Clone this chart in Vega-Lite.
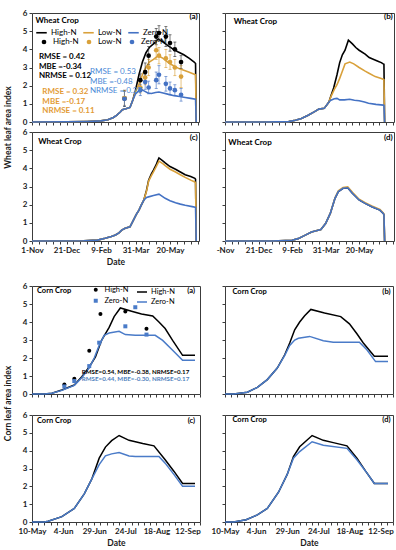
{
"$schema": "https://vega.github.io/schema/vega-lite/v6.json",
"background": "white",
"padding": {"left": 2, "top": 8, "right": 2, "bottom": 2},
"config": {
 "font": "Lato",
 "view": {"stroke": "#3c3c3c", "strokeWidth": 1},
 "axis": {"grid": false, "domain": false, "ticks": true, "tickSize": 3, "tickColor": "#3c3c3c", "tickWidth": 1, "labelOverlap": false, "labelFont": "Lato", "labelFontSize": 8, "labelFontWeight": "bold", "labelColor": "#1a1a1a", "labelPadding": 2, "titleFont": "Lato", "titleFontSize": 8.5, "titleFontWeight": "bold", "titleColor": "#1a1a1a", "titlePadding": 3},
 "legend": {"labelFont": "Lato", "labelFontSize": 8, "labelColor": "#000", "padding": 0, "rowPadding": 1}
},
"datasets": {
 "wheat": [
  {"panel":"a","series":"High-N","date":"2016-11-01","lai":0},
  {"panel":"a","series":"High-N","date":"2016-12-21","lai":0.01},
  {"panel":"a","series":"High-N","date":"2017-01-20","lai":0.03},
  {"panel":"a","series":"High-N","date":"2017-02-09","lai":0.06},
  {"panel":"a","series":"High-N","date":"2017-02-19","lai":0.12},
  {"panel":"a","series":"High-N","date":"2017-02-27","lai":0.25},
  {"panel":"a","series":"High-N","date":"2017-03-04","lai":0.38},
  {"panel":"a","series":"High-N","date":"2017-03-09","lai":0.55},
  {"panel":"a","series":"High-N","date":"2017-03-12","lai":0.68},
  {"panel":"a","series":"High-N","date":"2017-03-17","lai":0.73},
  {"panel":"a","series":"High-N","date":"2017-03-23","lai":0.8},
  {"panel":"a","series":"High-N","date":"2017-03-27","lai":1.2},
  {"panel":"a","series":"High-N","date":"2017-03-31","lai":1.75},
  {"panel":"a","series":"High-N","date":"2017-04-05","lai":2.6},
  {"panel":"a","series":"High-N","date":"2017-04-10","lai":3.3},
  {"panel":"a","series":"High-N","date":"2017-04-15","lai":3.8},
  {"panel":"a","series":"High-N","date":"2017-04-20","lai":4.1},
  {"panel":"a","series":"High-N","date":"2017-04-26","lai":4.3},
  {"panel":"a","series":"High-N","date":"2017-05-03","lai":4.57},
  {"panel":"a","series":"High-N","date":"2017-05-10","lai":4.4},
  {"panel":"a","series":"High-N","date":"2017-05-17","lai":4.2},
  {"panel":"a","series":"High-N","date":"2017-05-25","lai":4.0},
  {"panel":"a","series":"High-N","date":"2017-06-01","lai":3.85},
  {"panel":"a","series":"High-N","date":"2017-06-09","lai":3.7},
  {"panel":"a","series":"High-N","date":"2017-06-17","lai":3.5},
  {"panel":"a","series":"High-N","date":"2017-06-24","lai":3.3},
  {"panel":"a","series":"High-N","date":"2017-06-26","lai":3.22},
  {"panel":"a","series":"High-N","date":"2017-06-27","lai":0},
  {"panel":"a","series":"Low-N","date":"2016-11-01","lai":0},
  {"panel":"a","series":"Low-N","date":"2016-12-21","lai":0.01},
  {"panel":"a","series":"Low-N","date":"2017-01-20","lai":0.03},
  {"panel":"a","series":"Low-N","date":"2017-02-09","lai":0.06},
  {"panel":"a","series":"Low-N","date":"2017-02-19","lai":0.12},
  {"panel":"a","series":"Low-N","date":"2017-02-27","lai":0.25},
  {"panel":"a","series":"Low-N","date":"2017-03-04","lai":0.38},
  {"panel":"a","series":"Low-N","date":"2017-03-09","lai":0.55},
  {"panel":"a","series":"Low-N","date":"2017-03-12","lai":0.68},
  {"panel":"a","series":"Low-N","date":"2017-03-17","lai":0.73},
  {"panel":"a","series":"Low-N","date":"2017-03-23","lai":0.8},
  {"panel":"a","series":"Low-N","date":"2017-03-27","lai":1.2},
  {"panel":"a","series":"Low-N","date":"2017-03-31","lai":1.65},
  {"panel":"a","series":"Low-N","date":"2017-04-05","lai":2.1},
  {"panel":"a","series":"Low-N","date":"2017-04-10","lai":2.6},
  {"panel":"a","series":"Low-N","date":"2017-04-15","lai":3.0},
  {"panel":"a","series":"Low-N","date":"2017-04-20","lai":3.3},
  {"panel":"a","series":"Low-N","date":"2017-04-26","lai":3.45},
  {"panel":"a","series":"Low-N","date":"2017-05-03","lai":3.65},
  {"panel":"a","series":"Low-N","date":"2017-05-10","lai":3.5},
  {"panel":"a","series":"Low-N","date":"2017-05-18","lai":3.25},
  {"panel":"a","series":"Low-N","date":"2017-05-25","lai":3.1},
  {"panel":"a","series":"Low-N","date":"2017-06-02","lai":2.94},
  {"panel":"a","series":"Low-N","date":"2017-06-09","lai":2.85},
  {"panel":"a","series":"Low-N","date":"2017-06-16","lai":2.75},
  {"panel":"a","series":"Low-N","date":"2017-06-25","lai":2.62},
  {"panel":"a","series":"Low-N","date":"2017-06-26","lai":2.6},
  {"panel":"a","series":"Low-N","date":"2017-06-27","lai":0},
  {"panel":"a","series":"Zero-N","date":"2016-11-01","lai":0},
  {"panel":"a","series":"Zero-N","date":"2016-12-21","lai":0.01},
  {"panel":"a","series":"Zero-N","date":"2017-01-20","lai":0.03},
  {"panel":"a","series":"Zero-N","date":"2017-02-09","lai":0.06},
  {"panel":"a","series":"Zero-N","date":"2017-02-19","lai":0.12},
  {"panel":"a","series":"Zero-N","date":"2017-02-27","lai":0.25},
  {"panel":"a","series":"Zero-N","date":"2017-03-04","lai":0.38},
  {"panel":"a","series":"Zero-N","date":"2017-03-09","lai":0.55},
  {"panel":"a","series":"Zero-N","date":"2017-03-12","lai":0.68},
  {"panel":"a","series":"Zero-N","date":"2017-03-17","lai":0.73},
  {"panel":"a","series":"Zero-N","date":"2017-03-23","lai":0.8},
  {"panel":"a","series":"Zero-N","date":"2017-03-27","lai":1.2},
  {"panel":"a","series":"Zero-N","date":"2017-03-31","lai":1.55},
  {"panel":"a","series":"Zero-N","date":"2017-04-05","lai":1.72},
  {"panel":"a","series":"Zero-N","date":"2017-04-09","lai":1.78},
  {"panel":"a","series":"Zero-N","date":"2017-04-13","lai":1.7},
  {"panel":"a","series":"Zero-N","date":"2017-04-18","lai":1.6},
  {"panel":"a","series":"Zero-N","date":"2017-04-23","lai":1.57},
  {"panel":"a","series":"Zero-N","date":"2017-04-29","lai":1.62},
  {"panel":"a","series":"Zero-N","date":"2017-05-04","lai":1.65},
  {"panel":"a","series":"Zero-N","date":"2017-05-10","lai":1.6},
  {"panel":"a","series":"Zero-N","date":"2017-05-18","lai":1.52},
  {"panel":"a","series":"Zero-N","date":"2017-05-26","lai":1.45},
  {"panel":"a","series":"Zero-N","date":"2017-06-03","lai":1.4},
  {"panel":"a","series":"Zero-N","date":"2017-06-11","lai":1.35},
  {"panel":"a","series":"Zero-N","date":"2017-06-19","lai":1.3},
  {"panel":"a","series":"Zero-N","date":"2017-06-26","lai":1.25},
  {"panel":"a","series":"Zero-N","date":"2017-06-27","lai":0},

  {"panel":"b","series":"High-N","date":"2016-11-01","lai":0},
  {"panel":"b","series":"High-N","date":"2016-12-31","lai":0},
  {"panel":"b","series":"High-N","date":"2017-02-04","lai":0.02},
  {"panel":"b","series":"High-N","date":"2017-02-14","lai":0.1},
  {"panel":"b","series":"High-N","date":"2017-02-23","lai":0.19},
  {"panel":"b","series":"High-N","date":"2017-03-05","lai":0.37},
  {"panel":"b","series":"High-N","date":"2017-03-14","lai":0.56},
  {"panel":"b","series":"High-N","date":"2017-03-21","lai":0.71},
  {"panel":"b","series":"High-N","date":"2017-03-29","lai":0.75},
  {"panel":"b","series":"High-N","date":"2017-04-05","lai":1.1},
  {"panel":"b","series":"High-N","date":"2017-04-08","lai":1.45},
  {"panel":"b","series":"High-N","date":"2017-04-12","lai":1.87},
  {"panel":"b","series":"High-N","date":"2017-04-17","lai":2.6},
  {"panel":"b","series":"High-N","date":"2017-04-21","lai":3.27},
  {"panel":"b","series":"High-N","date":"2017-04-25","lai":3.7},
  {"panel":"b","series":"High-N","date":"2017-04-29","lai":3.95},
  {"panel":"b","series":"High-N","date":"2017-05-04","lai":4.5},
  {"panel":"b","series":"High-N","date":"2017-05-10","lai":4.3},
  {"panel":"b","series":"High-N","date":"2017-05-15","lai":4.1},
  {"panel":"b","series":"High-N","date":"2017-05-20","lai":3.95},
  {"panel":"b","series":"High-N","date":"2017-05-29","lai":3.74},
  {"panel":"b","series":"High-N","date":"2017-06-04","lai":3.55},
  {"panel":"b","series":"High-N","date":"2017-06-10","lai":3.46},
  {"panel":"b","series":"High-N","date":"2017-06-17","lai":3.35},
  {"panel":"b","series":"High-N","date":"2017-06-22","lai":3.27},
  {"panel":"b","series":"High-N","date":"2017-06-25","lai":3.2},
  {"panel":"b","series":"High-N","date":"2017-06-26","lai":3.18},
  {"panel":"b","series":"High-N","date":"2017-06-27","lai":0},
  {"panel":"b","series":"Low-N","date":"2016-11-01","lai":0},
  {"panel":"b","series":"Low-N","date":"2016-12-31","lai":0},
  {"panel":"b","series":"Low-N","date":"2017-02-04","lai":0.02},
  {"panel":"b","series":"Low-N","date":"2017-02-14","lai":0.1},
  {"panel":"b","series":"Low-N","date":"2017-02-23","lai":0.19},
  {"panel":"b","series":"Low-N","date":"2017-03-05","lai":0.37},
  {"panel":"b","series":"Low-N","date":"2017-03-14","lai":0.56},
  {"panel":"b","series":"Low-N","date":"2017-03-21","lai":0.71},
  {"panel":"b","series":"Low-N","date":"2017-03-29","lai":0.75},
  {"panel":"b","series":"Low-N","date":"2017-04-05","lai":1.1},
  {"panel":"b","series":"Low-N","date":"2017-04-08","lai":1.4},
  {"panel":"b","series":"Low-N","date":"2017-04-13","lai":1.8},
  {"panel":"b","series":"Low-N","date":"2017-04-17","lai":2.05},
  {"panel":"b","series":"Low-N","date":"2017-04-21","lai":2.4},
  {"panel":"b","series":"Low-N","date":"2017-04-24","lai":2.7},
  {"panel":"b","series":"Low-N","date":"2017-04-29","lai":3.2},
  {"panel":"b","series":"Low-N","date":"2017-05-06","lai":3.3},
  {"panel":"b","series":"Low-N","date":"2017-05-12","lai":3.2},
  {"panel":"b","series":"Low-N","date":"2017-05-20","lai":3.0},
  {"panel":"b","series":"Low-N","date":"2017-05-29","lai":2.8},
  {"panel":"b","series":"Low-N","date":"2017-06-03","lai":2.7},
  {"panel":"b","series":"Low-N","date":"2017-06-13","lai":2.5},
  {"panel":"b","series":"Low-N","date":"2017-06-22","lai":2.4},
  {"panel":"b","series":"Low-N","date":"2017-06-25","lai":2.35},
  {"panel":"b","series":"Low-N","date":"2017-06-26","lai":2.33},
  {"panel":"b","series":"Low-N","date":"2017-06-27","lai":0},
  {"panel":"b","series":"Zero-N","date":"2016-11-01","lai":0},
  {"panel":"b","series":"Zero-N","date":"2016-12-31","lai":0},
  {"panel":"b","series":"Zero-N","date":"2017-02-04","lai":0.02},
  {"panel":"b","series":"Zero-N","date":"2017-02-14","lai":0.1},
  {"panel":"b","series":"Zero-N","date":"2017-02-23","lai":0.19},
  {"panel":"b","series":"Zero-N","date":"2017-03-05","lai":0.37},
  {"panel":"b","series":"Zero-N","date":"2017-03-14","lai":0.56},
  {"panel":"b","series":"Zero-N","date":"2017-03-21","lai":0.71},
  {"panel":"b","series":"Zero-N","date":"2017-03-29","lai":0.75},
  {"panel":"b","series":"Zero-N","date":"2017-04-05","lai":1.1},
  {"panel":"b","series":"Zero-N","date":"2017-04-08","lai":1.2},
  {"panel":"b","series":"Zero-N","date":"2017-04-13","lai":1.28},
  {"panel":"b","series":"Zero-N","date":"2017-04-17","lai":1.3},
  {"panel":"b","series":"Zero-N","date":"2017-04-21","lai":1.22},
  {"panel":"b","series":"Zero-N","date":"2017-04-28","lai":1.22},
  {"panel":"b","series":"Zero-N","date":"2017-05-06","lai":1.25},
  {"panel":"b","series":"Zero-N","date":"2017-05-13","lai":1.2},
  {"panel":"b","series":"Zero-N","date":"2017-05-20","lai":1.17},
  {"panel":"b","series":"Zero-N","date":"2017-05-28","lai":1.1},
  {"panel":"b","series":"Zero-N","date":"2017-06-03","lai":1.03},
  {"panel":"b","series":"Zero-N","date":"2017-06-14","lai":0.97},
  {"panel":"b","series":"Zero-N","date":"2017-06-25","lai":0.93},
  {"panel":"b","series":"Zero-N","date":"2017-06-26","lai":0.92},
  {"panel":"b","series":"Zero-N","date":"2017-06-27","lai":0},

  {"panel":"c","series":"High-N","date":"2016-11-01","lai":0},
  {"panel":"c","series":"High-N","date":"2017-01-15","lai":0.01},
  {"panel":"c","series":"High-N","date":"2017-02-04","lai":0.05},
  {"panel":"c","series":"High-N","date":"2017-02-15","lai":0.15},
  {"panel":"c","series":"High-N","date":"2017-02-24","lai":0.25},
  {"panel":"c","series":"High-N","date":"2017-03-02","lai":0.33},
  {"panel":"c","series":"High-N","date":"2017-03-07","lai":0.45},
  {"panel":"c","series":"High-N","date":"2017-03-11","lai":0.6},
  {"panel":"c","series":"High-N","date":"2017-03-16","lai":0.7},
  {"panel":"c","series":"High-N","date":"2017-03-23","lai":0.78},
  {"panel":"c","series":"High-N","date":"2017-03-28","lai":1.15},
  {"panel":"c","series":"High-N","date":"2017-04-01","lai":1.45},
  {"panel":"c","series":"High-N","date":"2017-04-05","lai":1.7},
  {"panel":"c","series":"High-N","date":"2017-04-08","lai":1.95},
  {"panel":"c","series":"High-N","date":"2017-04-12","lai":2.25},
  {"panel":"c","series":"High-N","date":"2017-04-16","lai":2.8},
  {"panel":"c","series":"High-N","date":"2017-04-19","lai":3.35},
  {"panel":"c","series":"High-N","date":"2017-04-23","lai":3.7},
  {"panel":"c","series":"High-N","date":"2017-04-26","lai":3.9},
  {"panel":"c","series":"High-N","date":"2017-04-30","lai":4.2},
  {"panel":"c","series":"High-N","date":"2017-05-02","lai":4.4},
  {"panel":"c","series":"High-N","date":"2017-05-04","lai":4.57},
  {"panel":"c","series":"High-N","date":"2017-05-10","lai":4.4},
  {"panel":"c","series":"High-N","date":"2017-05-13","lai":4.3},
  {"panel":"c","series":"High-N","date":"2017-05-20","lai":4.1},
  {"panel":"c","series":"High-N","date":"2017-05-28","lai":3.95},
  {"panel":"c","series":"High-N","date":"2017-06-04","lai":3.8},
  {"panel":"c","series":"High-N","date":"2017-06-11","lai":3.65},
  {"panel":"c","series":"High-N","date":"2017-06-19","lai":3.55},
  {"panel":"c","series":"High-N","date":"2017-06-25","lai":3.45},
  {"panel":"c","series":"High-N","date":"2017-06-26","lai":3.4},
  {"panel":"c","series":"High-N","date":"2017-06-27","lai":0},
  {"panel":"c","series":"Low-N","date":"2016-11-01","lai":0},
  {"panel":"c","series":"Low-N","date":"2017-01-15","lai":0.01},
  {"panel":"c","series":"Low-N","date":"2017-02-04","lai":0.05},
  {"panel":"c","series":"Low-N","date":"2017-02-15","lai":0.15},
  {"panel":"c","series":"Low-N","date":"2017-02-24","lai":0.25},
  {"panel":"c","series":"Low-N","date":"2017-03-02","lai":0.33},
  {"panel":"c","series":"Low-N","date":"2017-03-07","lai":0.45},
  {"panel":"c","series":"Low-N","date":"2017-03-11","lai":0.6},
  {"panel":"c","series":"Low-N","date":"2017-03-16","lai":0.7},
  {"panel":"c","series":"Low-N","date":"2017-03-23","lai":0.78},
  {"panel":"c","series":"Low-N","date":"2017-03-28","lai":1.15},
  {"panel":"c","series":"Low-N","date":"2017-04-01","lai":1.45},
  {"panel":"c","series":"Low-N","date":"2017-04-05","lai":1.7},
  {"panel":"c","series":"Low-N","date":"2017-04-08","lai":1.95},
  {"panel":"c","series":"Low-N","date":"2017-04-12","lai":2.25},
  {"panel":"c","series":"Low-N","date":"2017-04-16","lai":2.75},
  {"panel":"c","series":"Low-N","date":"2017-04-19","lai":3.3},
  {"panel":"c","series":"Low-N","date":"2017-04-23","lai":3.6},
  {"panel":"c","series":"Low-N","date":"2017-04-26","lai":3.8},
  {"panel":"c","series":"Low-N","date":"2017-04-30","lai":4.1},
  {"panel":"c","series":"Low-N","date":"2017-05-04","lai":4.4},
  {"panel":"c","series":"Low-N","date":"2017-05-10","lai":4.25},
  {"panel":"c","series":"Low-N","date":"2017-05-13","lai":4.15},
  {"panel":"c","series":"Low-N","date":"2017-05-20","lai":3.95},
  {"panel":"c","series":"Low-N","date":"2017-05-28","lai":3.8},
  {"panel":"c","series":"Low-N","date":"2017-06-04","lai":3.65},
  {"panel":"c","series":"Low-N","date":"2017-06-11","lai":3.5},
  {"panel":"c","series":"Low-N","date":"2017-06-19","lai":3.35},
  {"panel":"c","series":"Low-N","date":"2017-06-25","lai":3.25},
  {"panel":"c","series":"Low-N","date":"2017-06-26","lai":3.2},
  {"panel":"c","series":"Low-N","date":"2017-06-27","lai":0},
  {"panel":"c","series":"Zero-N","date":"2016-11-01","lai":0},
  {"panel":"c","series":"Zero-N","date":"2017-01-15","lai":0.01},
  {"panel":"c","series":"Zero-N","date":"2017-02-04","lai":0.05},
  {"panel":"c","series":"Zero-N","date":"2017-02-15","lai":0.15},
  {"panel":"c","series":"Zero-N","date":"2017-02-24","lai":0.25},
  {"panel":"c","series":"Zero-N","date":"2017-03-02","lai":0.33},
  {"panel":"c","series":"Zero-N","date":"2017-03-07","lai":0.45},
  {"panel":"c","series":"Zero-N","date":"2017-03-11","lai":0.6},
  {"panel":"c","series":"Zero-N","date":"2017-03-16","lai":0.7},
  {"panel":"c","series":"Zero-N","date":"2017-03-23","lai":0.78},
  {"panel":"c","series":"Zero-N","date":"2017-03-28","lai":1.15},
  {"panel":"c","series":"Zero-N","date":"2017-04-01","lai":1.45},
  {"panel":"c","series":"Zero-N","date":"2017-04-05","lai":1.7},
  {"panel":"c","series":"Zero-N","date":"2017-04-08","lai":1.95},
  {"panel":"c","series":"Zero-N","date":"2017-04-12","lai":2.25},
  {"panel":"c","series":"Zero-N","date":"2017-04-16","lai":2.4},
  {"panel":"c","series":"Zero-N","date":"2017-04-19","lai":2.43},
  {"panel":"c","series":"Zero-N","date":"2017-04-26","lai":2.5},
  {"panel":"c","series":"Zero-N","date":"2017-05-04","lai":2.58},
  {"panel":"c","series":"Zero-N","date":"2017-05-13","lai":2.35},
  {"panel":"c","series":"Zero-N","date":"2017-05-20","lai":2.22},
  {"panel":"c","series":"Zero-N","date":"2017-05-28","lai":2.1},
  {"panel":"c","series":"Zero-N","date":"2017-06-04","lai":2.03},
  {"panel":"c","series":"Zero-N","date":"2017-06-11","lai":1.97},
  {"panel":"c","series":"Zero-N","date":"2017-06-23","lai":1.88},
  {"panel":"c","series":"Zero-N","date":"2017-06-26","lai":1.85},
  {"panel":"c","series":"Zero-N","date":"2017-06-27","lai":0},

  {"panel":"d","series":"High-N","date":"2016-11-01","lai":0},
  {"panel":"d","series":"High-N","date":"2017-01-10","lai":0},
  {"panel":"d","series":"High-N","date":"2017-02-09","lai":0.04},
  {"panel":"d","series":"High-N","date":"2017-02-18","lai":0.13},
  {"panel":"d","series":"High-N","date":"2017-02-28","lai":0.31},
  {"panel":"d","series":"High-N","date":"2017-03-10","lai":0.5},
  {"panel":"d","series":"High-N","date":"2017-03-17","lai":0.56},
  {"panel":"d","series":"High-N","date":"2017-03-24","lai":0.63},
  {"panel":"d","series":"High-N","date":"2017-03-31","lai":0.96},
  {"panel":"d","series":"High-N","date":"2017-04-07","lai":1.52},
  {"panel":"d","series":"High-N","date":"2017-04-14","lai":2.35},
  {"panel":"d","series":"High-N","date":"2017-04-19","lai":2.72},
  {"panel":"d","series":"High-N","date":"2017-04-26","lai":2.9},
  {"panel":"d","series":"High-N","date":"2017-05-03","lai":2.93},
  {"panel":"d","series":"High-N","date":"2017-05-10","lai":2.63},
  {"panel":"d","series":"High-N","date":"2017-05-20","lai":2.26},
  {"panel":"d","series":"High-N","date":"2017-05-29","lai":2.07},
  {"panel":"d","series":"High-N","date":"2017-06-08","lai":1.89},
  {"panel":"d","series":"High-N","date":"2017-06-20","lai":1.7},
  {"panel":"d","series":"High-N","date":"2017-06-25","lai":1.52},
  {"panel":"d","series":"High-N","date":"2017-06-26","lai":1.45},
  {"panel":"d","series":"High-N","date":"2017-06-27","lai":0},
  {"panel":"d","series":"Low-N","date":"2016-11-01","lai":0},
  {"panel":"d","series":"Low-N","date":"2017-01-10","lai":0},
  {"panel":"d","series":"Low-N","date":"2017-02-09","lai":0.04},
  {"panel":"d","series":"Low-N","date":"2017-02-18","lai":0.13},
  {"panel":"d","series":"Low-N","date":"2017-02-28","lai":0.31},
  {"panel":"d","series":"Low-N","date":"2017-03-10","lai":0.5},
  {"panel":"d","series":"Low-N","date":"2017-03-17","lai":0.56},
  {"panel":"d","series":"Low-N","date":"2017-03-24","lai":0.63},
  {"panel":"d","series":"Low-N","date":"2017-03-31","lai":0.96},
  {"panel":"d","series":"Low-N","date":"2017-04-07","lai":1.52},
  {"panel":"d","series":"Low-N","date":"2017-04-14","lai":2.37},
  {"panel":"d","series":"Low-N","date":"2017-04-19","lai":2.76},
  {"panel":"d","series":"Low-N","date":"2017-04-26","lai":2.95},
  {"panel":"d","series":"Low-N","date":"2017-05-03","lai":2.98},
  {"panel":"d","series":"Low-N","date":"2017-05-10","lai":2.68},
  {"panel":"d","series":"Low-N","date":"2017-05-20","lai":2.3},
  {"panel":"d","series":"Low-N","date":"2017-05-29","lai":2.11},
  {"panel":"d","series":"Low-N","date":"2017-06-08","lai":1.93},
  {"panel":"d","series":"Low-N","date":"2017-06-20","lai":1.74},
  {"panel":"d","series":"Low-N","date":"2017-06-25","lai":1.55},
  {"panel":"d","series":"Low-N","date":"2017-06-26","lai":1.47},
  {"panel":"d","series":"Low-N","date":"2017-06-27","lai":0},
  {"panel":"d","series":"Zero-N","date":"2016-11-01","lai":0},
  {"panel":"d","series":"Zero-N","date":"2017-01-10","lai":0},
  {"panel":"d","series":"Zero-N","date":"2017-02-09","lai":0.04},
  {"panel":"d","series":"Zero-N","date":"2017-02-18","lai":0.13},
  {"panel":"d","series":"Zero-N","date":"2017-02-28","lai":0.31},
  {"panel":"d","series":"Zero-N","date":"2017-03-10","lai":0.5},
  {"panel":"d","series":"Zero-N","date":"2017-03-17","lai":0.56},
  {"panel":"d","series":"Zero-N","date":"2017-03-24","lai":0.63},
  {"panel":"d","series":"Zero-N","date":"2017-03-31","lai":0.96},
  {"panel":"d","series":"Zero-N","date":"2017-04-07","lai":1.52},
  {"panel":"d","series":"Zero-N","date":"2017-04-14","lai":2.35},
  {"panel":"d","series":"Zero-N","date":"2017-04-19","lai":2.72},
  {"panel":"d","series":"Zero-N","date":"2017-04-26","lai":2.9},
  {"panel":"d","series":"Zero-N","date":"2017-05-03","lai":2.93},
  {"panel":"d","series":"Zero-N","date":"2017-05-10","lai":2.63},
  {"panel":"d","series":"Zero-N","date":"2017-05-20","lai":2.26},
  {"panel":"d","series":"Zero-N","date":"2017-05-29","lai":2.07},
  {"panel":"d","series":"Zero-N","date":"2017-06-08","lai":1.89},
  {"panel":"d","series":"Zero-N","date":"2017-06-20","lai":1.7},
  {"panel":"d","series":"Zero-N","date":"2017-06-25","lai":1.52},
  {"panel":"d","series":"Zero-N","date":"2017-06-26","lai":1.45},
  {"panel":"d","series":"Zero-N","date":"2017-06-27","lai":0}
 ],
 "wheatObs": [
  {"treatment":"High-N","date":"2017-03-15","lai":1.3,"sd":0.45},
  {"treatment":"High-N","date":"2017-04-07","lai":2.3,"sd":0.35},
  {"treatment":"High-N","date":"2017-04-14","lai":2.75,"sd":0.5},
  {"treatment":"High-N","date":"2017-04-19","lai":3.65,"sd":0.5},
  {"treatment":"High-N","date":"2017-04-30","lai":4.7,"sd":0.45},
  {"treatment":"High-N","date":"2017-05-04","lai":4.9,"sd":0.4},
  {"treatment":"High-N","date":"2017-05-14","lai":4.7,"sd":0.55},
  {"treatment":"High-N","date":"2017-05-20","lai":4.35,"sd":0.45},
  {"treatment":"High-N","date":"2017-05-27","lai":4.0,"sd":0.4},
  {"treatment":"High-N","date":"2017-06-05","lai":3.3,"sd":0.35},
  {"treatment":"Low-N","date":"2017-03-15","lai":1.32,"sd":0.4},
  {"treatment":"Low-N","date":"2017-04-07","lai":1.9,"sd":0.3},
  {"treatment":"Low-N","date":"2017-04-14","lai":2.45,"sd":0.4},
  {"treatment":"Low-N","date":"2017-04-19","lai":3.0,"sd":0.45},
  {"treatment":"Low-N","date":"2017-04-30","lai":3.95,"sd":0.5},
  {"treatment":"Low-N","date":"2017-05-04","lai":3.65,"sd":0.45},
  {"treatment":"Low-N","date":"2017-05-14","lai":3.5,"sd":0.5},
  {"treatment":"Low-N","date":"2017-05-20","lai":3.3,"sd":0.4},
  {"treatment":"Low-N","date":"2017-05-27","lai":3.0,"sd":0.45},
  {"treatment":"Low-N","date":"2017-06-05","lai":2.5,"sd":0.6},
  {"treatment":"Zero-N","date":"2017-03-15","lai":1.28,"sd":0.4},
  {"treatment":"Zero-N","date":"2017-04-07","lai":1.75,"sd":0.3},
  {"treatment":"Zero-N","date":"2017-04-14","lai":2.2,"sd":0.4},
  {"treatment":"Zero-N","date":"2017-04-19","lai":1.9,"sd":0.35},
  {"treatment":"Zero-N","date":"2017-04-30","lai":2.3,"sd":0.45},
  {"treatment":"Zero-N","date":"2017-05-04","lai":2.6,"sd":0.5},
  {"treatment":"Zero-N","date":"2017-05-14","lai":2.1,"sd":0.4},
  {"treatment":"Zero-N","date":"2017-05-20","lai":1.85,"sd":0.35},
  {"treatment":"Zero-N","date":"2017-05-27","lai":1.75,"sd":0.3},
  {"treatment":"Zero-N","date":"2017-06-05","lai":1.5,"sd":0.35}
 ],
 "wheatNotes": [
  {"panel":"a","kind":"crop","text":"Wheat Crop","date":"2016-11-06","lai":5.56},
  {"panel":"a","kind":"tag","text":"(a)","date":"2017-06-29","lai":5.78},
  {"panel":"a","kind":"high","text":"RMSE = 0.42","date":"2016-11-11","lai":3.6},
  {"panel":"a","kind":"high","text":"MBE   =-0.34","date":"2016-11-11","lai":3.05},
  {"panel":"a","kind":"high","text":"NRMSE = 0.12","date":"2016-11-11","lai":2.53},
  {"panel":"a","kind":"low","text":"RMSE = 0.32","date":"2016-11-16","lai":1.65},
  {"panel":"a","kind":"low","text":"MBE   =-0.17","date":"2016-11-16","lai":1.1},
  {"panel":"a","kind":"low","text":"NRMSE = 0.11","date":"2016-11-16","lai":0.6},
  {"panel":"a","kind":"zero","text":"RMSE = 0.53","date":"2017-01-24","lai":2.77},
  {"panel":"a","kind":"zero","text":"MBE   =-0.48","date":"2017-01-24","lai":2.22},
  {"panel":"a","kind":"zero","text":"NRMSE = 0.27","date":"2017-01-24","lai":1.72},
  {"panel":"b","kind":"crop","text":"Wheat Crop","date":"2016-11-14","lai":5.5},
  {"panel":"b","kind":"tag","text":"(b)","date":"2017-07-09","lai":5.78},
  {"panel":"c","kind":"crop","text":"Wheat Crop","date":"2016-11-10","lai":5.43},
  {"panel":"c","kind":"tag","text":"(c)","date":"2017-06-29","lai":5.65},
  {"panel":"d","kind":"crop","text":"Wheat Crop","date":"2016-11-06","lai":5.41},
  {"panel":"d","kind":"tag","text":"(d)","date":"2017-07-09","lai":5.67}
 ],
 "corn": [
  {"panel":"a","series":"High-N","date":"2017-05-10","lai":0},
  {"panel":"a","series":"High-N","date":"2017-05-20","lai":0},
  {"panel":"a","series":"High-N","date":"2017-05-26","lai":0.04},
  {"panel":"a","series":"High-N","date":"2017-06-03","lai":0.22},
  {"panel":"a","series":"High-N","date":"2017-06-13","lai":0.5},
  {"panel":"a","series":"High-N","date":"2017-06-19","lai":0.96},
  {"panel":"a","series":"High-N","date":"2017-06-25","lai":1.5},
  {"panel":"a","series":"High-N","date":"2017-06-30","lai":2.06},
  {"panel":"a","series":"High-N","date":"2017-07-05","lai":3.0},
  {"panel":"a","series":"High-N","date":"2017-07-11","lai":3.7},
  {"panel":"a","series":"High-N","date":"2017-07-15","lai":4.3},
  {"panel":"a","series":"High-N","date":"2017-07-20","lai":4.78},
  {"panel":"a","series":"High-N","date":"2017-07-29","lai":4.6},
  {"panel":"a","series":"High-N","date":"2017-08-06","lai":4.45},
  {"panel":"a","series":"High-N","date":"2017-08-15","lai":4.33},
  {"panel":"a","series":"High-N","date":"2017-08-20","lai":4.0},
  {"panel":"a","series":"High-N","date":"2017-08-25","lai":3.64},
  {"panel":"a","series":"High-N","date":"2017-08-31","lai":2.98},
  {"panel":"a","series":"High-N","date":"2017-09-08","lai":2.15},
  {"panel":"a","series":"High-N","date":"2017-09-18","lai":2.15},
  {"panel":"a","series":"Zero-N","date":"2017-05-10","lai":0},
  {"panel":"a","series":"Zero-N","date":"2017-05-20","lai":0},
  {"panel":"a","series":"Zero-N","date":"2017-05-26","lai":0.04},
  {"panel":"a","series":"Zero-N","date":"2017-06-03","lai":0.2},
  {"panel":"a","series":"Zero-N","date":"2017-06-13","lai":0.48},
  {"panel":"a","series":"Zero-N","date":"2017-06-19","lai":0.9},
  {"panel":"a","series":"Zero-N","date":"2017-06-25","lai":1.45},
  {"panel":"a","series":"Zero-N","date":"2017-06-29","lai":2.0},
  {"panel":"a","series":"Zero-N","date":"2017-07-03","lai":2.7},
  {"panel":"a","series":"Zero-N","date":"2017-07-07","lai":3.26},
  {"panel":"a","series":"Zero-N","date":"2017-07-11","lai":3.39},
  {"panel":"a","series":"Zero-N","date":"2017-07-19","lai":3.48},
  {"panel":"a","series":"Zero-N","date":"2017-07-24","lai":3.3},
  {"panel":"a","series":"Zero-N","date":"2017-08-01","lai":3.26},
  {"panel":"a","series":"Zero-N","date":"2017-08-17","lai":3.26},
  {"panel":"a","series":"Zero-N","date":"2017-08-23","lai":2.98},
  {"panel":"a","series":"Zero-N","date":"2017-08-31","lai":2.43},
  {"panel":"a","series":"Zero-N","date":"2017-09-08","lai":1.88},
  {"panel":"a","series":"Zero-N","date":"2017-09-18","lai":1.88},

  {"panel":"b","series":"High-N","date":"2017-05-10","lai":0},
  {"panel":"b","series":"High-N","date":"2017-05-17","lai":0},
  {"panel":"b","series":"High-N","date":"2017-05-28","lai":0.1},
  {"panel":"b","series":"High-N","date":"2017-06-05","lai":0.37},
  {"panel":"b","series":"High-N","date":"2017-06-13","lai":0.8},
  {"panel":"b","series":"High-N","date":"2017-06-21","lai":1.44},
  {"panel":"b","series":"High-N","date":"2017-06-27","lai":2.18},
  {"panel":"b","series":"High-N","date":"2017-07-01","lai":2.83},
  {"panel":"b","series":"High-N","date":"2017-07-05","lai":3.57},
  {"panel":"b","series":"High-N","date":"2017-07-09","lai":4.0},
  {"panel":"b","series":"High-N","date":"2017-07-13","lai":4.35},
  {"panel":"b","series":"High-N","date":"2017-07-18","lai":4.7},
  {"panel":"b","series":"High-N","date":"2017-07-29","lai":4.5},
  {"panel":"b","series":"High-N","date":"2017-08-11","lai":4.3},
  {"panel":"b","series":"High-N","date":"2017-08-18","lai":3.9},
  {"panel":"b","series":"High-N","date":"2017-08-24","lai":3.35},
  {"panel":"b","series":"High-N","date":"2017-08-29","lai":2.85},
  {"panel":"b","series":"High-N","date":"2017-09-07","lai":2.1},
  {"panel":"b","series":"High-N","date":"2017-09-18","lai":2.1},
  {"panel":"b","series":"Zero-N","date":"2017-05-10","lai":0},
  {"panel":"b","series":"Zero-N","date":"2017-05-17","lai":0},
  {"panel":"b","series":"Zero-N","date":"2017-05-28","lai":0.1},
  {"panel":"b","series":"Zero-N","date":"2017-06-05","lai":0.37},
  {"panel":"b","series":"Zero-N","date":"2017-06-13","lai":0.8},
  {"panel":"b","series":"Zero-N","date":"2017-06-21","lai":1.44},
  {"panel":"b","series":"Zero-N","date":"2017-06-27","lai":2.15},
  {"panel":"b","series":"Zero-N","date":"2017-07-01","lai":2.7},
  {"panel":"b","series":"Zero-N","date":"2017-07-05","lai":3.0},
  {"panel":"b","series":"Zero-N","date":"2017-07-08","lai":3.1},
  {"panel":"b","series":"Zero-N","date":"2017-07-17","lai":3.2},
  {"panel":"b","series":"Zero-N","date":"2017-07-28","lai":2.96},
  {"panel":"b","series":"Zero-N","date":"2017-08-05","lai":2.87},
  {"panel":"b","series":"Zero-N","date":"2017-08-26","lai":2.87},
  {"panel":"b","series":"Zero-N","date":"2017-09-01","lai":2.46},
  {"panel":"b","series":"Zero-N","date":"2017-09-08","lai":1.8},
  {"panel":"b","series":"Zero-N","date":"2017-09-18","lai":1.8},

  {"panel":"c","series":"High-N","date":"2017-05-10","lai":0},
  {"panel":"c","series":"High-N","date":"2017-05-20","lai":0},
  {"panel":"c","series":"High-N","date":"2017-05-23","lai":0.04},
  {"panel":"c","series":"High-N","date":"2017-06-03","lai":0.3},
  {"panel":"c","series":"High-N","date":"2017-06-13","lai":0.76},
  {"panel":"c","series":"High-N","date":"2017-06-21","lai":1.58},
  {"panel":"c","series":"High-N","date":"2017-06-27","lai":2.4},
  {"panel":"c","series":"High-N","date":"2017-07-03","lai":3.58},
  {"panel":"c","series":"High-N","date":"2017-07-08","lai":4.2},
  {"panel":"c","series":"High-N","date":"2017-07-13","lai":4.56},
  {"panel":"c","series":"High-N","date":"2017-07-19","lai":4.85},
  {"panel":"c","series":"High-N","date":"2017-07-27","lai":4.58},
  {"panel":"c","series":"High-N","date":"2017-08-07","lai":4.4},
  {"panel":"c","series":"High-N","date":"2017-08-16","lai":4.27},
  {"panel":"c","series":"High-N","date":"2017-08-25","lai":3.49},
  {"panel":"c","series":"High-N","date":"2017-09-01","lai":2.85},
  {"panel":"c","series":"High-N","date":"2017-09-08","lai":2.16},
  {"panel":"c","series":"High-N","date":"2017-09-18","lai":2.16},
  {"panel":"c","series":"Zero-N","date":"2017-05-10","lai":0},
  {"panel":"c","series":"Zero-N","date":"2017-05-20","lai":0},
  {"panel":"c","series":"Zero-N","date":"2017-05-23","lai":0.04},
  {"panel":"c","series":"Zero-N","date":"2017-06-03","lai":0.3},
  {"panel":"c","series":"Zero-N","date":"2017-06-13","lai":0.76},
  {"panel":"c","series":"Zero-N","date":"2017-06-21","lai":1.58},
  {"panel":"c","series":"Zero-N","date":"2017-06-27","lai":2.4},
  {"panel":"c","series":"Zero-N","date":"2017-07-03","lai":3.22},
  {"panel":"c","series":"Zero-N","date":"2017-07-08","lai":3.71},
  {"panel":"c","series":"Zero-N","date":"2017-07-13","lai":3.82},
  {"panel":"c","series":"Zero-N","date":"2017-07-19","lai":3.9},
  {"panel":"c","series":"Zero-N","date":"2017-07-27","lai":3.7},
  {"panel":"c","series":"Zero-N","date":"2017-08-01","lai":3.67},
  {"panel":"c","series":"Zero-N","date":"2017-08-20","lai":3.67},
  {"panel":"c","series":"Zero-N","date":"2017-08-25","lai":3.3},
  {"panel":"c","series":"Zero-N","date":"2017-09-01","lai":2.67},
  {"panel":"c","series":"Zero-N","date":"2017-09-08","lai":2.0},
  {"panel":"c","series":"Zero-N","date":"2017-09-18","lai":2.0},

  {"panel":"d","series":"High-N","date":"2017-05-10","lai":0},
  {"panel":"d","series":"High-N","date":"2017-05-17","lai":0},
  {"panel":"d","series":"High-N","date":"2017-05-27","lai":0.13},
  {"panel":"d","series":"High-N","date":"2017-06-05","lai":0.4},
  {"panel":"d","series":"High-N","date":"2017-06-13","lai":0.76},
  {"panel":"d","series":"High-N","date":"2017-06-22","lai":1.67},
  {"panel":"d","series":"High-N","date":"2017-06-29","lai":2.67},
  {"panel":"d","series":"High-N","date":"2017-07-04","lai":3.67},
  {"panel":"d","series":"High-N","date":"2017-07-09","lai":4.22},
  {"panel":"d","series":"High-N","date":"2017-07-19","lai":4.85},
  {"panel":"d","series":"High-N","date":"2017-07-28","lai":4.58},
  {"panel":"d","series":"High-N","date":"2017-08-05","lai":4.45},
  {"panel":"d","series":"High-N","date":"2017-08-16","lai":4.27},
  {"panel":"d","series":"High-N","date":"2017-08-24","lai":3.58},
  {"panel":"d","series":"High-N","date":"2017-08-31","lai":2.85},
  {"panel":"d","series":"High-N","date":"2017-09-07","lai":2.16},
  {"panel":"d","series":"High-N","date":"2017-09-18","lai":2.16},
  {"panel":"d","series":"Zero-N","date":"2017-05-10","lai":0},
  {"panel":"d","series":"Zero-N","date":"2017-05-17","lai":0},
  {"panel":"d","series":"Zero-N","date":"2017-05-27","lai":0.13},
  {"panel":"d","series":"Zero-N","date":"2017-06-05","lai":0.4},
  {"panel":"d","series":"Zero-N","date":"2017-06-13","lai":0.76},
  {"panel":"d","series":"Zero-N","date":"2017-06-22","lai":1.67},
  {"panel":"d","series":"Zero-N","date":"2017-06-29","lai":2.67},
  {"panel":"d","series":"Zero-N","date":"2017-07-04","lai":3.58},
  {"panel":"d","series":"Zero-N","date":"2017-07-09","lai":3.95},
  {"panel":"d","series":"Zero-N","date":"2017-07-19","lai":4.5},
  {"panel":"d","series":"Zero-N","date":"2017-07-28","lai":4.3},
  {"panel":"d","series":"Zero-N","date":"2017-08-16","lai":4.13},
  {"panel":"d","series":"Zero-N","date":"2017-08-24","lai":3.49},
  {"panel":"d","series":"Zero-N","date":"2017-08-31","lai":2.85},
  {"panel":"d","series":"Zero-N","date":"2017-09-07","lai":2.16},
  {"panel":"d","series":"Zero-N","date":"2017-09-18","lai":2.16}
 ],
 "cornObs": [
  {"treatment":"High-N","date":"2017-06-05","lai":0.53},
  {"treatment":"High-N","date":"2017-06-13","lai":0.85},
  {"treatment":"High-N","date":"2017-06-25","lai":2.4},
  {"treatment":"High-N","date":"2017-07-04","lai":4.45},
  {"treatment":"High-N","date":"2017-07-24","lai":4.58},
  {"treatment":"High-N","date":"2017-08-10","lai":3.62},
  {"treatment":"Zero-N","date":"2017-06-05","lai":0.42},
  {"treatment":"Zero-N","date":"2017-06-13","lai":0.72},
  {"treatment":"Zero-N","date":"2017-06-25","lai":1.55},
  {"treatment":"Zero-N","date":"2017-07-03","lai":2.85},
  {"treatment":"Zero-N","date":"2017-07-24","lai":3.76},
  {"treatment":"Zero-N","date":"2017-08-01","lai":4.82},
  {"treatment":"Zero-N","date":"2017-08-10","lai":3.3}
 ],
 "cornNotes": [
  {"panel":"a","kind":"crop","text":"Corn Crop","date":"2017-05-14","lai":5.74},
  {"panel":"a","kind":"tag","text":"(a)","date":"2017-09-18","lai":5.74},
  {"panel":"a","kind":"high","text":"RMSE=0.54,   MBE=-0.38,  NRMSE=0.17","date":"2017-06-19","lai":1.23},
  {"panel":"a","kind":"zero","text":"RMSE=0.44,   MBE=-0.30,  NRMSE=0.17","date":"2017-06-19","lai":0.81},
  {"panel":"b","kind":"crop","text":"Corn Crop","date":"2017-05-16","lai":5.68},
  {"panel":"b","kind":"tag","text":"(b)","date":"2017-09-20","lai":5.68},
  {"panel":"c","kind":"crop","text":"Corn Crop","date":"2017-05-14","lai":5.66},
  {"panel":"c","kind":"tag","text":"(c)","date":"2017-09-18","lai":5.66},
  {"panel":"d","kind":"crop","text":"Corn Crop","date":"2017-05-16","lai":5.7},
  {"panel":"d","kind":"tag","text":"(d)","date":"2017-09-20","lai":5.7}
 ]
},
"columns": 2,
"spacing": {"row": 10, "column": 25},
"bounds": "flush",
"resolve": {"scale": {"x": "independent", "y": "independent", "color": "independent", "fill": "independent", "stroke": "independent", "shape": "independent"}},
"concat": [
 {
  "width": 167, "height": 109,
  "layer": [
   {"data": {"name": "wheat"}, "transform": [{"filter": "datum.panel === 'a'"}],
    "mark": {"type": "line", "strokeWidth": 1.6},
    "encoding": {
     "x": {"field": "date", "type": "temporal", "scale": {"type": "utc", "domain": [1477958400000, 1498867200000]}, "axis": {"values": [1477958400000,1478822400000,1479686400000,1480550400000,1481414400000,1482278400000,1483142400000,1484006400000,1484870400000,1485734400000,1486598400000,1487462400000,1488326400000,1489190400000,1490054400000,1490918400000,1491782400000,1492646400000,1493510400000,1494374400000,1495238400000,1496102400000,1496966400000,1497830400000,1498694400000], "tickCount": 200, "labels": false, "title": null}},
     "y": {"field": "lai", "type": "quantitative", "scale": {"domain": [0, 6]}, "axis": {"values": [0,1,2,3,4,5,6], "tickCount": 50, "format": "d", "title": "Wheat leaf area index", "titleX": -20, "titleY": 114}},
     "stroke": {"field": "series", "type": "nominal", "scale": {"domain": ["High-N","Low-N","Zero-N"], "range": ["#000000","#D9A13B","#4472C4"]}, "legend": {"orient": "none", "legendX": 3, "legendY": 13, "direction": "horizontal", "title": null, "symbolType": "stroke", "symbolSize": 110, "symbolStrokeWidth": 1.6, "labelOffset": 3, "columnPadding": 3}}
    }},
   {"data": {"name": "wheatObs"},
    "mark": {"type": "errorbar", "ticks": {"size": 3}, "thickness": 0.8, "opacity": 0.8},
    "encoding": {
     "x": {"field": "date", "type": "temporal"},
     "y": {"field": "lai", "type": "quantitative", "title": "Wheat leaf area index"},
     "yError": {"field": "sd"},
     "color": {"field": "treatment", "type": "nominal", "scale": {"range": ["#333333","#D9A13B","#4472C4"]}, "legend": null}
    }},
   {"data": {"name": "wheatObs"},
    "mark": {"type": "point", "filled": true, "size": 22, "opacity": 1},
    "encoding": {
     "x": {"field": "date", "type": "temporal"},
     "y": {"field": "lai", "type": "quantitative", "title": "Wheat leaf area index"},
     "fill": {"field": "treatment", "type": "nominal", "scale": {"range": ["#000000","#D9A13B","#4472C4"]}, "legend": {"orient": "none", "legendX": 8, "legendY": 25, "direction": "horizontal", "title": null, "symbolType": "circle", "symbolSize": 22, "labelOffset": 5, "columnPadding": 6}}
    }},
   {"data": {"name": "wheatNotes"}, "transform": [{"filter": "datum.panel === 'a' && (datum.kind === 'crop' || datum.kind === 'high')"}],
    "mark": {"type": "text", "align": "left", "baseline": "middle", "fontSize": 8, "fontWeight": "bold", "color": "#000000"},
    "encoding": {"x": {"field": "date", "type": "temporal"}, "y": {"field": "lai", "type": "quantitative"}, "text": {"field": "text"}}},
   {"data": {"name": "wheatNotes"}, "transform": [{"filter": "datum.panel === 'a' && datum.kind === 'low'"}],
    "mark": {"type": "text", "align": "left", "baseline": "middle", "fontSize": 8, "fontWeight": "bold", "color": "#E39B36"},
    "encoding": {"x": {"field": "date", "type": "temporal"}, "y": {"field": "lai", "type": "quantitative"}, "text": {"field": "text"}}},
   {"data": {"name": "wheatNotes"}, "transform": [{"filter": "datum.panel === 'a' && datum.kind === 'zero'"}],
    "mark": {"type": "text", "align": "left", "baseline": "middle", "fontSize": 8, "color": "#4A88D6"},
    "encoding": {"x": {"field": "date", "type": "temporal"}, "y": {"field": "lai", "type": "quantitative"}, "text": {"field": "text"}}},
   {"data": {"name": "wheatNotes"}, "transform": [{"filter": "datum.panel === 'a' && datum.kind === 'tag'"}],
    "mark": {"type": "text", "align": "right", "baseline": "middle", "fontSize": 8, "fontWeight": "bold", "color": "#000000"},
    "encoding": {"x": {"field": "date", "type": "temporal"}, "y": {"field": "lai", "type": "quantitative"}, "text": {"field": "text"}}}
  ]
 },
 {
  "width": 169, "height": 109,
  "layer": [
   {"data": {"name": "wheat"}, "transform": [{"filter": "datum.panel === 'b'"}],
    "mark": {"type": "line", "strokeWidth": 1.6},
    "encoding": {
     "x": {"field": "date", "type": "temporal", "scale": {"type": "utc", "domain": [1477958400000, 1499731200000]}, "axis": {"values": [1477958400000,1478822400000,1479686400000,1480550400000,1481414400000,1482278400000,1483142400000,1484006400000,1484870400000,1485734400000,1486598400000,1487462400000,1488326400000,1489190400000,1490054400000,1490918400000,1491782400000,1492646400000,1493510400000,1494374400000,1495238400000,1496102400000,1496966400000,1497830400000,1498694400000,1499558400000], "tickCount": 200, "labels": false, "title": null}},
     "y": {"field": "lai", "type": "quantitative", "scale": {"domain": [0, 6]}, "axis": {"values": [0,1,2,3,4,5,6], "tickCount": 50, "format": "d", "labels": false, "title": null}},
     "stroke": {"field": "series", "type": "nominal", "scale": {"domain": ["High-N","Low-N","Zero-N"], "range": ["#000000","#D9A13B","#4472C4"]}, "legend": null}
    }},
   {"data": {"name": "wheatNotes"}, "transform": [{"filter": "datum.panel === 'b' && datum.kind === 'crop'"}],
    "mark": {"type": "text", "align": "left", "baseline": "middle", "fontSize": 8, "fontWeight": "bold", "color": "#000000"},
    "encoding": {"x": {"field": "date", "type": "temporal"}, "y": {"field": "lai", "type": "quantitative"}, "text": {"field": "text"}}},
   {"data": {"name": "wheatNotes"}, "transform": [{"filter": "datum.panel === 'b' && datum.kind === 'tag'"}],
    "mark": {"type": "text", "align": "right", "baseline": "middle", "fontSize": 8, "fontWeight": "bold", "color": "#000000"},
    "encoding": {"x": {"field": "date", "type": "temporal"}, "y": {"field": "lai", "type": "quantitative"}, "text": {"field": "text"}}}
  ]
 },
 {
  "width": 167, "height": 109,
  "layer": [
   {"data": {"name": "wheat"}, "transform": [{"filter": "datum.panel === 'c'"}],
    "mark": {"type": "line", "strokeWidth": 1.6},
    "encoding": {
     "x": {"field": "date", "type": "temporal", "scale": {"type": "utc", "domain": [1477958400000, 1498867200000]}, "axis": {"values": [1477958400000,1478822400000,1479686400000,1480550400000,1481414400000,1482278400000,1483142400000,1484006400000,1484870400000,1485734400000,1486598400000,1487462400000,1488326400000,1489190400000,1490054400000,1490918400000,1491782400000,1492646400000,1493510400000,1494374400000,1495238400000,1496102400000,1496966400000,1497830400000,1498694400000], "tickCount": 200, "format": "%-d-%b", "labelExpr": "indexof(['1-Nov','21-Dec','9-Feb','31-Mar','20-May'], datum.label) >= 0 ? datum.label : ''", "labelFlush": false, "labelOverlap": false, "title": "Date"}},
     "y": {"field": "lai", "type": "quantitative", "scale": {"domain": [0, 6]}, "axis": {"values": [0,1,2,3,4,5,6], "tickCount": 50, "format": "d", "title": null}},
     "stroke": {"field": "series", "type": "nominal", "scale": {"domain": ["High-N","Low-N","Zero-N"], "range": ["#000000","#D9A13B","#4472C4"]}, "legend": null}
    }},
   {"data": {"name": "wheatNotes"}, "transform": [{"filter": "datum.panel === 'c' && datum.kind === 'crop'"}],
    "mark": {"type": "text", "align": "left", "baseline": "middle", "fontSize": 8, "fontWeight": "bold", "color": "#000000"},
    "encoding": {"x": {"field": "date", "type": "temporal"}, "y": {"field": "lai", "type": "quantitative"}, "text": {"field": "text"}}},
   {"data": {"name": "wheatNotes"}, "transform": [{"filter": "datum.panel === 'c' && datum.kind === 'tag'"}],
    "mark": {"type": "text", "align": "right", "baseline": "middle", "fontSize": 8, "fontWeight": "bold", "color": "#000000"},
    "encoding": {"x": {"field": "date", "type": "temporal"}, "y": {"field": "lai", "type": "quantitative"}, "text": {"field": "text"}}}
  ]
 },
 {
  "width": 169, "height": 109,
  "layer": [
   {"data": {"name": "wheat"}, "transform": [{"filter": "datum.panel === 'd'"}],
    "mark": {"type": "line", "strokeWidth": 1.6},
    "encoding": {
     "x": {"field": "date", "type": "temporal", "scale": {"type": "utc", "domain": [1477958400000, 1499731200000]}, "axis": {"values": [1477958400000,1478822400000,1479686400000,1480550400000,1481414400000,1482278400000,1483142400000,1484006400000,1484870400000,1485734400000,1486598400000,1487462400000,1488326400000,1489190400000,1490054400000,1490918400000,1491782400000,1492646400000,1493510400000,1494374400000,1495238400000,1496102400000,1496966400000,1497830400000,1498694400000,1499558400000], "tickCount": 200, "format": "%-d-%b", "labelExpr": "datum.label == '1-Nov' ? '-Nov' : (indexof(['21-Dec','9-Feb','31-Mar','20-May'], datum.label) >= 0 ? datum.label : '')", "labelFlush": false, "labelOverlap": false, "title": null}},
     "y": {"field": "lai", "type": "quantitative", "scale": {"domain": [0, 6]}, "axis": {"values": [0,1,2,3,4,5,6], "tickCount": 50, "format": "d", "labels": false, "title": null}},
     "stroke": {"field": "series", "type": "nominal", "scale": {"domain": ["High-N","Low-N","Zero-N"], "range": ["#000000","#D9A13B","#4472C4"]}, "legend": null}
    }},
   {"data": {"name": "wheatNotes"}, "transform": [{"filter": "datum.panel === 'd' && datum.kind === 'crop'"}],
    "mark": {"type": "text", "align": "left", "baseline": "middle", "fontSize": 8, "fontWeight": "bold", "color": "#000000"},
    "encoding": {"x": {"field": "date", "type": "temporal"}, "y": {"field": "lai", "type": "quantitative"}, "text": {"field": "text"}}},
   {"data": {"name": "wheatNotes"}, "transform": [{"filter": "datum.panel === 'd' && datum.kind === 'tag'"}],
    "mark": {"type": "text", "align": "right", "baseline": "middle", "fontSize": 8, "fontWeight": "bold", "color": "#000000"},
    "encoding": {"x": {"field": "date", "type": "temporal"}, "y": {"field": "lai", "type": "quantitative"}, "text": {"field": "text"}}}
  ]
 },
 {"width": 10, "height": 25, "data": {"values": [{"a": 1}]}, "mark": {"type": "point", "opacity": 0}, "view": {"stroke": null}},
 {"width": 10, "height": 25, "data": {"values": [{"a": 1}]}, "mark": {"type": "point", "opacity": 0}, "view": {"stroke": null}},
 {
  "width": 168, "height": 108,
  "layer": [
   {"data": {"name": "corn"}, "transform": [{"filter": "datum.panel === 'a'"}],
    "mark": {"type": "line", "strokeWidth": 1.5},
    "encoding": {
     "x": {"field": "date", "type": "temporal", "scale": {"type": "utc", "domain": [1494374400000, 1506038400000]}, "axis": {"values": [1494374400000,1494806400000,1495238400000,1495670400000,1496102400000,1496534400000,1496966400000,1497398400000,1497830400000,1498262400000,1498694400000,1499126400000,1499558400000,1499990400000,1500422400000,1500854400000,1501286400000,1501718400000,1502150400000,1502582400000,1503014400000,1503446400000,1503878400000,1504310400000,1504742400000,1505174400000,1505606400000,1506038400000], "tickCount": 200, "labels": false, "title": null}},
     "y": {"field": "lai", "type": "quantitative", "scale": {"domain": [0, 6]}, "axis": {"values": [0,1,2,3,4,5,6], "tickCount": 50, "format": "d", "title": "Corn leaf area index", "titleX": -20, "titleY": 117}},
     "stroke": {"field": "series", "type": "nominal", "scale": {"domain": ["High-N","Zero-N"], "range": ["#000000","#4A7BC8"]}, "legend": {"orient": "none", "legendX": 104, "legendY": 0, "direction": "vertical", "title": null, "symbolType": "stroke", "symbolSize": 100, "symbolStrokeWidth": 1.5, "labelOffset": 3, "labelFontSize": 7.5, "rowPadding": 0}}
    }},
   {"data": {"name": "cornObs"},
    "mark": {"type": "point", "filled": true, "size": 16, "opacity": 1},
    "encoding": {
     "x": {"field": "date", "type": "temporal"},
     "y": {"field": "lai", "type": "quantitative", "title": "Corn leaf area index"},
     "fill": {"field": "treatment", "type": "nominal", "scale": {"range": ["#000000","#4A7BC8"]}, "legend": {"orient": "none", "legendX": 60, "legendY": 0, "direction": "vertical", "title": null, "symbolSize": 16, "labelOffset": 5, "labelFontSize": 7.5, "rowPadding": 0}},
     "shape": {"field": "treatment", "type": "nominal", "scale": {"range": ["circle","square"]}, "legend": {"orient": "none", "legendX": 60, "legendY": 0, "direction": "vertical", "title": null, "symbolSize": 16, "labelOffset": 5, "labelFontSize": 7.5, "rowPadding": 0}}
    }},
   {"data": {"name": "cornNotes"}, "transform": [{"filter": "datum.panel === 'a' && datum.kind === 'crop'"}],
    "mark": {"type": "text", "align": "left", "baseline": "middle", "fontSize": 7.5, "fontWeight": "bold", "color": "#000000"},
    "encoding": {"x": {"field": "date", "type": "temporal"}, "y": {"field": "lai", "type": "quantitative"}, "text": {"field": "text"}}},
   {"data": {"name": "cornNotes"}, "transform": [{"filter": "datum.panel === 'a' && datum.kind === 'high'"}],
    "mark": {"type": "text", "align": "left", "baseline": "middle", "fontSize": 6.2, "fontWeight": "bold", "color": "#000000"},
    "encoding": {"x": {"field": "date", "type": "temporal"}, "y": {"field": "lai", "type": "quantitative"}, "text": {"field": "text"}}},
   {"data": {"name": "cornNotes"}, "transform": [{"filter": "datum.panel === 'a' && datum.kind === 'zero'"}],
    "mark": {"type": "text", "align": "left", "baseline": "middle", "fontSize": 6.2, "fontWeight": "bold", "color": "#4F81BD"},
    "encoding": {"x": {"field": "date", "type": "temporal"}, "y": {"field": "lai", "type": "quantitative"}, "text": {"field": "text"}}},
   {"data": {"name": "cornNotes"}, "transform": [{"filter": "datum.panel === 'a' && datum.kind === 'tag'"}],
    "mark": {"type": "text", "align": "right", "baseline": "middle", "fontSize": 7.5, "fontWeight": "bold", "color": "#000000"},
    "encoding": {"x": {"field": "date", "type": "temporal"}, "y": {"field": "lai", "type": "quantitative"}, "text": {"field": "text"}}}
  ]
 },
 {
  "width": 168, "height": 108,
  "layer": [
   {"data": {"name": "corn"}, "transform": [{"filter": "datum.panel === 'b'"}],
    "mark": {"type": "line", "strokeWidth": 1.5},
    "encoding": {
     "x": {"field": "date", "type": "temporal", "scale": {"type": "utc", "domain": [1494374400000, 1506038400000]}, "axis": {"values": [1494374400000,1494806400000,1495238400000,1495670400000,1496102400000,1496534400000,1496966400000,1497398400000,1497830400000,1498262400000,1498694400000,1499126400000,1499558400000,1499990400000,1500422400000,1500854400000,1501286400000,1501718400000,1502150400000,1502582400000,1503014400000,1503446400000,1503878400000,1504310400000,1504742400000,1505174400000,1505606400000,1506038400000], "tickCount": 200, "labels": false, "title": null}},
     "y": {"field": "lai", "type": "quantitative", "scale": {"domain": [0, 6]}, "axis": {"values": [0,1,2,3,4,5,6], "tickCount": 50, "format": "d", "labels": false, "title": null}},
     "stroke": {"field": "series", "type": "nominal", "scale": {"domain": ["High-N","Zero-N"], "range": ["#000000","#4A7BC8"]}, "legend": null}
    }},
   {"data": {"name": "cornNotes"}, "transform": [{"filter": "datum.panel === 'b' && datum.kind === 'crop'"}],
    "mark": {"type": "text", "align": "left", "baseline": "middle", "fontSize": 7.5, "fontWeight": "bold", "color": "#000000"},
    "encoding": {"x": {"field": "date", "type": "temporal"}, "y": {"field": "lai", "type": "quantitative"}, "text": {"field": "text"}}},
   {"data": {"name": "cornNotes"}, "transform": [{"filter": "datum.panel === 'b' && datum.kind === 'tag'"}],
    "mark": {"type": "text", "align": "right", "baseline": "middle", "fontSize": 7.5, "fontWeight": "bold", "color": "#000000"},
    "encoding": {"x": {"field": "date", "type": "temporal"}, "y": {"field": "lai", "type": "quantitative"}, "text": {"field": "text"}}}
  ]
 },
 {"width": 10, "height": 1, "data": {"values": [{"a": 1}]}, "mark": {"type": "point", "opacity": 0}, "view": {"stroke": null}},
 {"width": 10, "height": 1, "data": {"values": [{"a": 1}]}, "mark": {"type": "point", "opacity": 0}, "view": {"stroke": null}},
 {
  "width": 168, "height": 107,
  "layer": [
   {"data": {"name": "corn"}, "transform": [{"filter": "datum.panel === 'c'"}],
    "mark": {"type": "line", "strokeWidth": 1.5},
    "encoding": {
     "x": {"field": "date", "type": "temporal", "scale": {"type": "utc", "domain": [1494374400000, 1506038400000]}, "axis": {"values": [1494374400000,1494806400000,1495238400000,1495670400000,1496102400000,1496534400000,1496966400000,1497398400000,1497830400000,1498262400000,1498694400000,1499126400000,1499558400000,1499990400000,1500422400000,1500854400000,1501286400000,1501718400000,1502150400000,1502582400000,1503014400000,1503446400000,1503878400000,1504310400000,1504742400000,1505174400000,1505606400000,1506038400000], "tickCount": 200, "format": "%-d-%b", "labelExpr": "indexof(['10-May','4-Jun','29-Jun','24-Jul','18-Aug','12-Sep'], datum.label) >= 0 ? datum.label : ''", "labelFlush": false, "labelOverlap": false, "title": "Date"}},
     "y": {"field": "lai", "type": "quantitative", "scale": {"domain": [0, 6]}, "axis": {"values": [0,1,2,3,4,5,6], "tickCount": 50, "format": "d", "title": null}},
     "stroke": {"field": "series", "type": "nominal", "scale": {"domain": ["High-N","Zero-N"], "range": ["#000000","#4A7BC8"]}, "legend": null}
    }},
   {"data": {"name": "cornNotes"}, "transform": [{"filter": "datum.panel === 'c' && datum.kind === 'crop'"}],
    "mark": {"type": "text", "align": "left", "baseline": "middle", "fontSize": 7.5, "fontWeight": "bold", "color": "#000000"},
    "encoding": {"x": {"field": "date", "type": "temporal"}, "y": {"field": "lai", "type": "quantitative"}, "text": {"field": "text"}}},
   {"data": {"name": "cornNotes"}, "transform": [{"filter": "datum.panel === 'c' && datum.kind === 'tag'"}],
    "mark": {"type": "text", "align": "right", "baseline": "middle", "fontSize": 7.5, "fontWeight": "bold", "color": "#000000"},
    "encoding": {"x": {"field": "date", "type": "temporal"}, "y": {"field": "lai", "type": "quantitative"}, "text": {"field": "text"}}}
  ]
 },
 {
  "width": 168, "height": 107,
  "layer": [
   {"data": {"name": "corn"}, "transform": [{"filter": "datum.panel === 'd'"}],
    "mark": {"type": "line", "strokeWidth": 1.5},
    "encoding": {
     "x": {"field": "date", "type": "temporal", "scale": {"type": "utc", "domain": [1494374400000, 1506038400000]}, "axis": {"values": [1494374400000,1494806400000,1495238400000,1495670400000,1496102400000,1496534400000,1496966400000,1497398400000,1497830400000,1498262400000,1498694400000,1499126400000,1499558400000,1499990400000,1500422400000,1500854400000,1501286400000,1501718400000,1502150400000,1502582400000,1503014400000,1503446400000,1503878400000,1504310400000,1504742400000,1505174400000,1505606400000,1506038400000], "tickCount": 200, "format": "%-d-%b", "labelExpr": "indexof(['10-May','4-Jun','29-Jun','24-Jul','18-Aug','12-Sep'], datum.label) >= 0 ? datum.label : ''", "labelFlush": false, "labelOverlap": false, "title": "Date"}},
     "y": {"field": "lai", "type": "quantitative", "scale": {"domain": [0, 6]}, "axis": {"values": [0,1,2,3,4,5,6], "tickCount": 50, "format": "d", "labels": false, "title": null}},
     "stroke": {"field": "series", "type": "nominal", "scale": {"domain": ["High-N","Zero-N"], "range": ["#000000","#4A7BC8"]}, "legend": null}
    }},
   {"data": {"name": "cornNotes"}, "transform": [{"filter": "datum.panel === 'd' && datum.kind === 'crop'"}],
    "mark": {"type": "text", "align": "left", "baseline": "middle", "fontSize": 7.5, "fontWeight": "bold", "color": "#000000"},
    "encoding": {"x": {"field": "date", "type": "temporal"}, "y": {"field": "lai", "type": "quantitative"}, "text": {"field": "text"}}},
   {"data": {"name": "cornNotes"}, "transform": [{"filter": "datum.panel === 'd' && datum.kind === 'tag'"}],
    "mark": {"type": "text", "align": "right", "baseline": "middle", "fontSize": 7.5, "fontWeight": "bold", "color": "#000000"},
    "encoding": {"x": {"field": "date", "type": "temporal"}, "y": {"field": "lai", "type": "quantitative"}, "text": {"field": "text"}}}
  ]
 }
]
}
